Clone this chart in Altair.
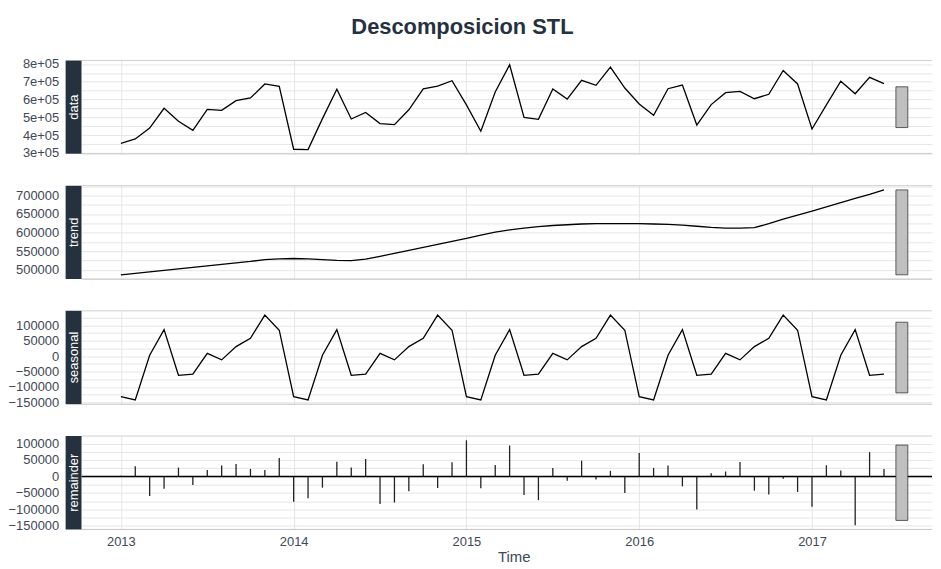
import altair as alt
import numpy as np
import pandas as pd

# ---- series (monthly, Jan 2013 - Jun 2017) ----
start_year = 2013
months_per_year = 12

data_values = [354000, 379000, 440000, 551000, 478000, 427000, 545000, 540000, 594000, 609000, 688000, 675000,
               321000, 319000, 493000, 658000, 491000, 528000, 465000, 459000, 543000, 660000, 676000, 706000,
               570000, 422000, 643000, 796000, 500000, 489000, 660000, 603000, 708000, 680000, 783000, 665000,
               575000, 512000, 661000, 682000, 457000, 572000, 639000, 646000, 605000, 630000, 764000, 688000,
               435000, 570000, 703000, 633000, 725000, 690000]

trend_values = [486000, 490000, 494000, 498000, 502000, 506000, 510000, 514000, 518000, 522000, 527000, 529000,
                530000, 529000, 527000, 525000, 524000, 528000, 536000, 544000, 552000, 560000, 568000, 576000,
                584000, 593000, 601000, 607000, 612000, 616000, 619000, 621000, 623000, 624000, 624000, 624000,
                624000, 623000, 622000, 620000, 617000, 614000, 612000, 612000, 613000, 624000, 636000, 647000,
                658000, 669000, 681000, 692000, 703000, 715000]

seasonal_values = [-131000, -142000, 3000, 86000, -62000, -58000, 9000, -12000, 31000, 58000, 133000, 84000,
                   -131000, -142000, 3000, 86000, -62000, -58000, 9000, -12000, 31000, 58000, 133000, 84000,
                   -131000, -142000, 3000, 86000, -62000, -58000, 9000, -12000, 31000, 58000, 133000, 84000,
                   -131000, -142000, 3000, 86000, -62000, -58000, 9000, -12000, 31000, 58000, 133000, 84000,
                   -131000, -142000, 3000, 86000, -62000, -58000]

remainder_values = [2000, 31000, -59000, -37000, 27000, -26000, 20000, 33000, 38000, 23000, 20000, 56000,
                    -77000, -66000, -34000, 45000, 27000, 53000, -84000, -79000, -45000, 37000, -35000, 43000,
                    110000, -36000, 35000, 94000, -56000, -72000, 26000, -13000, 48000, -9000, 17000, -50000,
                    71000, 26000, 33000, -30000, -100000, 10000, 15000, 44000, -43000, -55000, -7000, -47000,
                    -92000, 34000, 18000, -148000, 74000, 23000]

part_names = ["data", "trend", "seasonal", "remainder"]

# ---- axis ticks ----
year_ticks = [2013, 2014, 2015, 2016, 2017]
data_ticks = [300000, 350000, 400000, 450000, 500000, 550000, 600000, 650000, 700000, 750000, 800000]
trend_ticks = [475000, 500000, 525000, 550000, 575000, 600000, 625000, 650000, 675000, 700000, 725000]
seasonal_ticks = [-150000, -125000, -100000, -75000, -50000, -25000, 0, 25000, 50000, 75000, 100000, 125000]
remainder_ticks = [-150000, -125000, -100000, -75000, -50000, -25000, 0, 25000, 50000, 75000, 100000]

NAVY = "#25313F"
LABEL = "#3E4856"
GRID = "#E3E3E3"
FONT = "Liberation Sans"

n = len(data_values)
t = start_year + np.arange(n) / months_per_year
df = pd.DataFrame({
    "t": t,
    "data": data_values,
    "trend": trend_values,
    "seasonal": seasonal_values,
    "remainder": remainder_values,
})

# range bars (as in forecast::autoplot.stl)
xmin, xmax = float(t.min()), float(t.max())
barwidth = (xmax - xmin) / 64
bar_left, bar_right = xmax + barwidth, xmax + 2 * barwidth
barlength = min(df[p].max() - df[p].min() for p in part_names)

W = 856
H = 94
PX_PER_YEAR = 173.9
x_lo = xmin - 0.05 * (bar_right - xmin)
x_hi = x_lo + W / PX_PER_YEAR

tick_sets = {"data": data_ticks, "trend": trend_ticks,
             "seasonal": seasonal_ticks, "remainder": remainder_ticks}


def panel(part, bottom):
    lo, hi = df[part].min(), df[part].max()
    rng = hi - lo
    y_scale = alt.Scale(domain=[lo - 0.05 * rng, hi + 0.05 * rng], nice=False, zero=False)
    x_scale = alt.Scale(domain=[x_lo, x_hi], nice=False, zero=False)
    if part == "data":
        lab = "datum.value % 100000 == 0 ? format(datum.value / 100000, 'd') + 'e+05' : ''"
    else:
        lab = "datum.value % 50000 == 0 ? format(datum.value, 'd') : ''"
    y_axis = alt.Axis(values=tick_sets[part], tickCount=40, labelExpr=lab, grid=True, ticks=False,
                      domain=False, labelPadding=23, labelFontSize=13, labelColor=LABEL, labelFont=FONT,
                      labelOverlap=False, labelFlush=False,
                      gridColor=GRID, gridWidth=0.9, title=None)
    if bottom:
        x_axis = alt.Axis(values=year_ticks, tickCount=40, format="d", grid=True, ticks=False, domain=False,
                          labelPadding=6, labelFontSize=13, labelColor=LABEL, labelFont=FONT,
                          labelOverlap=False,
                          gridColor=GRID, gridWidth=0.9, title="Time", titleFontSize=15,
                          titleFont=FONT, titleFontWeight="normal", titleColor=LABEL,
                          titlePadding=1, titleX=435)
    else:
        x_axis = alt.Axis(values=year_ticks, tickCount=40, grid=True, ticks=False, domain=False,
                          labels=False, gridColor=GRID, gridWidth=0.9, title=None,
                          minExtent=0, maxExtent=0)

    x_enc = alt.X("t:Q", scale=x_scale, axis=x_axis)
    base = alt.Chart(df)
    layers = []
    if part == "remainder":
        layers.append(base.mark_rule(color="#222222", strokeWidth=1.3).encode(
            x=x_enc, y=alt.Y("remainder:Q", scale=y_scale, axis=y_axis), y2=alt.datum(0)))
        layers.append(alt.Chart(pd.DataFrame({"z": [0]})).mark_rule(color="black", strokeWidth=1.4)
                      .encode(y=alt.Y("z:Q")))
    else:
        layers.append(base.mark_line(color="black", strokeWidth=1.3).encode(
            x=x_enc, y=alt.Y(f"{part}:Q", scale=y_scale, axis=y_axis)))

    mid = (lo + hi) / 2
    bar_df = pd.DataFrame({"left": [bar_left], "right": [bar_right],
                           "top": [mid + barlength / 2], "bottom": [mid - barlength / 2]})
    layers.append(alt.Chart(bar_df).mark_rect(fill="#BFBFBF", stroke="#222222", strokeWidth=0.7).encode(
        x="left:Q", x2="right:Q", y="top:Q", y2="bottom:Q"))

    one = pd.DataFrame({"label": [part]})
    layers.append(alt.Chart(one).mark_rule(color="#CFCFCF", strokeWidth=1).encode(
        x=alt.value(0), x2=alt.value(W), y=alt.value(0)))
    layers.append(alt.Chart(one).mark_rule(color="#C4C4C4", strokeWidth=1).encode(
        x=alt.value(0), x2=alt.value(W), y=alt.value(H)))
    layers.append(alt.Chart(one).mark_rect(color=NAVY).encode(
        x=alt.value(-16), x2=alt.value(0), y=alt.value(0), y2=alt.value(H)))
    layers.append(alt.Chart(one).mark_text(angle=270, color="white", fontSize=13, font=FONT,
                                           align="center", baseline="middle").encode(
        x=alt.value(-8), y=alt.value(H / 2), text="label:N"))

    return alt.layer(*layers).properties(width=W, height=H)


panels = [panel(p, p == "remainder") for p in part_names]

chart = alt.vconcat(*panels, spacing=32, bounds="flush").resolve_scale(
    y="independent", x="shared").properties(
    title=alt.TitleParams("Descomposicion STL", fontSize=22, font=FONT, fontWeight="bold",
                          color=NAVY, anchor="middle", offset=19, dx=-8),
    padding={"left": 0, "top": 6, "right": 0, "bottom": 0},
).configure_view(strokeWidth=0)

chart.save("out.html", embed_options={"renderer": "svg", "actions": False})
